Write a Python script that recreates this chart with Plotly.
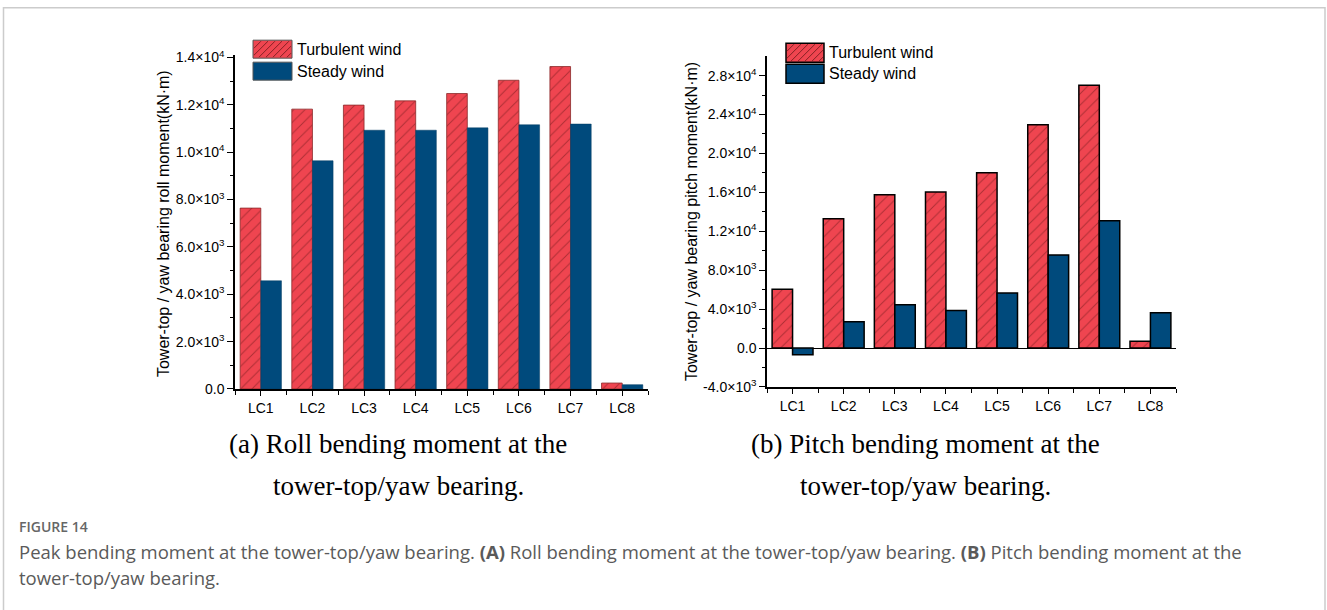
import plotly.graph_objects as go

# ---------------- data ----------------
categories = ["LC1", "LC2", "LC3", "LC4", "LC5", "LC6", "LC7", "LC8"]
roll_turbulent = [7640, 11820, 11990, 12170, 12480, 13040, 13620, 250]
roll_steady = [4570, 9640, 10930, 10930, 11030, 11160, 11190, 180]
pitch_turbulent = [6030, 13300, 15760, 16040, 18030, 22960, 27000, 690]
pitch_steady = [-690, 2710, 4460, 3870, 5650, 9560, 13090, 3630]

roll_ticks = [0, 2000, 4000, 6000, 8000, 10000, 12000, 14000]
pitch_ticks = [-4000, 0, 4000, 8000, 12000, 16000, 20000, 24000, 28000]

series_names = ["Turbulent wind", "Steady wind"]

# ---------------- style ----------------
W, H = 1327, 610
RED = "#EF4550"
BLUE = "#004A7C"
HATCH = "#6a1818"
AXFONT = "Liberation Sans, Arial, sans-serif"
YS, YO = 0.9744, 7.8   # vertical compensation of the page photograph


def px(x):
    return x / W


def py(y):
    return 1 - ((y - YO) / YS) / H


def sci(v):
    if v == 0:
        return "0.0"
    sign = "-" if v < 0 else ""
    a = abs(v)
    e = 0
    while a >= 10:
        a /= 10
        e += 1
    return f"{sign}{a:.1f}×10<sup>{e}</sup>"


idx = list(range(len(categories)))
minor_x = [i - 0.5 for i in range(len(categories) + 1)]

fig = go.Figure()

pattern = dict(shape="/", fgcolor=HATCH, size=8, solidity=0.12, fillmode="overlay")

fig.add_trace(go.Bar(x=idx, y=roll_turbulent, name=series_names[0], xaxis="x", yaxis="y",
                     marker=dict(color=RED, pattern=pattern, line=dict(color="#8a2a2a", width=0.8)),
                     showlegend=False))
fig.add_trace(go.Bar(x=idx, y=roll_steady, name=series_names[1], xaxis="x", yaxis="y",
                     marker=dict(color=BLUE, line=dict(color="#003a60", width=0.5)),
                     showlegend=False))
fig.add_trace(go.Bar(x=idx, y=pitch_turbulent, name=series_names[0], xaxis="x2", yaxis="y2",
                     marker=dict(color=RED, pattern=pattern, line=dict(color="black", width=1.5)),
                     showlegend=False))
fig.add_trace(go.Bar(x=idx, y=pitch_steady, name=series_names[1], xaxis="x2", yaxis="y2",
                     marker=dict(color=BLUE, line=dict(color="black", width=1.5)),
                     showlegend=False))


def xaxis_cfg(domain, anchor):
    return dict(domain=domain, anchor=anchor, range=[-0.5, len(categories) - 0.5],
                tickmode="array", tickvals=idx, ticktext=categories,
                ticks="outside", ticklen=5, tickwidth=1.2, tickcolor="black",
                showline=True, linecolor="black", linewidth=1.5, mirror=False,
                showgrid=False, zeroline=False,
                tickfont=dict(family=AXFONT, size=14, color="black"),
                minor=dict(tickvals=minor_x, ticks="outside", ticklen=4,
                           tickwidth=1.2, tickcolor="black", showgrid=False))


def yaxis_cfg(domain, anchor, rng, ticks, minor_vals, zl):
    return dict(domain=domain, anchor=anchor, range=rng,
                tickmode="array", tickvals=ticks, ticktext=[sci(v) for v in ticks],
                ticks="outside", ticklen=6, tickwidth=1.2, tickcolor="black",
                showline=True, linecolor="black", linewidth=1.5,
                showgrid=False, zeroline=zl, zerolinecolor="black", zerolinewidth=1.2,
                tickfont=dict(family=AXFONT, size=14, color="black"),
                minor=dict(tickvals=minor_vals, ticks="outside", ticklen=3.5,
                           tickwidth=1.2, tickcolor="black", showgrid=False))


roll_minor = [v + 1000 for v in roll_ticks[:-1]]
pitch_minor = [v + 2000 for v in pitch_ticks[:-1]]

fig.update_layout(
    width=W, height=H,
    margin=dict(l=0, r=0, t=0, b=0),
    paper_bgcolor="white", plot_bgcolor="white",
    barmode="group", bargap=0.2, bargroupgap=0,
    xaxis=xaxis_cfg([px(235), px(648)], "y"),
    yaxis=yaxis_cfg([py(389), py(55)], "x", [0, 14100], roll_ticks, roll_minor, False),
    xaxis2=xaxis_cfg([px(767), px(1176)], "y2"),
    yaxis2=yaxis_cfg([py(387), py(56)], "x2", [-4000, 30000], pitch_ticks, pitch_minor, True),
)


def hatch_path(x0, y0, x1, y1, step):
    segs = []
    h = y1 - y0
    c = x0 - h
    while c < x1:
        xa, ya = c, y1
        xb, yb = c + h, y0
        if xa < x0:
            ya = y1 - (x0 - c)
            xa = x0
        if xb > x1:
            yb = y0 + (xb - x1)
            xb = x1
        if xa < xb:
            segs.append(f"M{px(xa):.5f},{py(ya):.5f} L{px(xb):.5f},{py(yb):.5f}")
        c += step
    return " ".join(segs)


shapes = []
annotations = []


def legend(x0, ytop, sw_w, sw_h, gap, border_color, border_w, text_x):
    y0, y1 = ytop, ytop + sw_h
    shapes.append(dict(type="rect", xref="paper", yref="paper",
                       x0=px(x0), x1=px(x0 + sw_w), y0=py(y1), y1=py(y0),
                       fillcolor=RED, line=dict(color=border_color, width=border_w)))
    shapes.append(dict(type="path", xref="paper", yref="paper",
                       path=hatch_path(x0 + 1, y0 + 1, x0 + sw_w - 1, y1 - 1, 7),
                       line=dict(color=HATCH, width=0.8)))
    annotations.append(dict(x=px(text_x), y=py((y0 + y1) / 2), xref="paper", yref="paper",
                            text=series_names[0], showarrow=False, xanchor="left", yanchor="middle",
                            font=dict(family=AXFONT, size=16, color="black")))
    y0b, y1b = y1 + gap, y1 + gap + sw_h
    shapes.append(dict(type="rect", xref="paper", yref="paper",
                       x0=px(x0), x1=px(x0 + sw_w), y0=py(y1b), y1=py(y0b),
                       fillcolor=BLUE, line=dict(color=border_color, width=border_w)))
    annotations.append(dict(x=px(text_x), y=py((y0b + y1b) / 2), xref="paper", yref="paper",
                            text=series_names[1], showarrow=False, xanchor="left", yanchor="middle",
                            font=dict(family=AXFONT, size=16, color="black")))


legend(253, 40, 39, 18, 4, "#555555", 1, 295)
legend(786, 43, 38, 19, 2, "black", 1.5, 827)

# axis titles
annotations.append(dict(x=px(163), y=py(224), xref="paper", yref="paper", textangle=-90,
                        xanchor="center", yanchor="middle",
                        text="Tower-top / yaw bearing roll moment(kN·m)", showarrow=False,
                        font=dict(family=AXFONT, size=16, color="black")))
annotations.append(dict(x=px(691), y=py(222), xref="paper", yref="paper", textangle=-90,
                        xanchor="center", yanchor="middle",
                        text="Tower-top / yaw bearing pitch moment(kN·m)", showarrow=False,
                        font=dict(family=AXFONT, size=16, color="black")))

# subplot captions
SERIF = "Liberation Serif, Times New Roman, serif"
for cx, l1 in [(398, "(a) Roll bending moment at the"), (926, "(b) Pitch bending moment at the")]:
    annotations.append(dict(x=px(cx), y=py(444), xref="paper", yref="paper", text=l1,
                            showarrow=False, xanchor="center", yanchor="middle",
                            font=dict(family=SERIF, size=27, color="black")))
    annotations.append(dict(x=px(cx), y=py(486), xref="paper", yref="paper",
                            text="tower-top/yaw bearing.",
                            showarrow=False, xanchor="center", yanchor="middle",
                            font=dict(family=SERIF, size=27, color="black")))

# figure caption
CAP = "Open Sans, sans-serif"
annotations.append(dict(x=px(17), y=py(527), xref="paper", yref="paper", text="FIGURE 14",
                        showarrow=False, xanchor="left", yanchor="middle",
                        font=dict(family=CAP, size=14, color="#666666", weight=600)))
annotations.append(dict(x=px(17), y=py(552), xref="paper", yref="paper",
                        text="Peak bending moment at the tower-top/yaw bearing. <b>(A)</b> Roll bending moment at the tower-top/yaw bearing. <b>(B)</b> Pitch bending moment at the",
                        showarrow=False, xanchor="left", yanchor="middle",
                        font=dict(family=CAP, size=18.5, color="#5a5a5a")))
annotations.append(dict(x=px(17), y=py(578), xref="paper", yref="paper",
                        text="tower-top/yaw bearing.",
                        showarrow=False, xanchor="left", yanchor="middle",
                        font=dict(family=CAP, size=18.5, color="#5a5a5a")))

# outer frame
shapes.append(dict(type="path", xref="paper", yref="paper",
                   path=f"M{px(3.5)},{py(640)} L{px(3.5)},{py(7.5)} L{px(1325)},{py(7.5)} L{px(1325)},{py(640)}",
                   line=dict(color="#cccccc", width=1.5)))

fig.update_layout(shapes=shapes, annotations=annotations)

fig.write_html("out.html")
